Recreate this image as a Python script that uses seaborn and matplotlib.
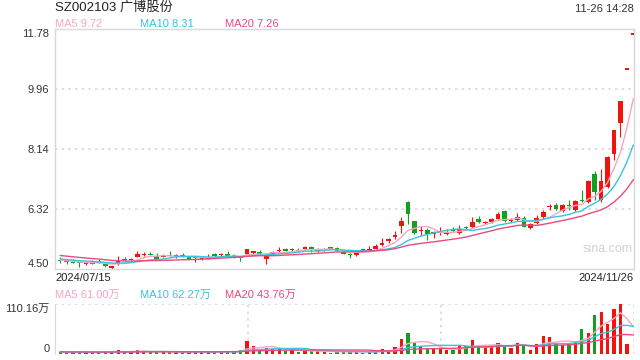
import matplotlib
matplotlib.use("Agg")
import matplotlib.pyplot as plt
import numpy as np
import pandas as pd
import seaborn as sns

# 日K 数据 (2024/07/15 ~ 2024/11/26, 90 个交易日)
opens = [4.77, 4.73, 4.71, 4.70, 4.66, 4.66, 4.74, 4.65, 4.53, 4.67,
         4.80, 4.77, 4.87, 4.93, 4.96, 4.90, 4.87, 4.92, 4.89, 4.91,
         4.86, 4.82, 4.80, 4.81, 4.95, 4.91, 4.95, 4.91, 4.84, 4.95,
         5.00, 5.02, 4.80, 4.97, 5.04, 5.10, 5.07, 5.09, 5.11, 5.16,
         5.05, 5.08, 5.14, 5.14, 5.03, 4.95, 4.91, 5.07, 5.08, 5.12,
         5.24, 5.34, 5.46, 5.81, 6.53, 5.95, 5.64, 5.68, 5.55, 5.58,
         5.57, 5.66, 5.60, 5.77, 5.78, 6.03, 5.89, 5.93, 6.02, 6.26,
         5.96, 6.00, 6.05, 5.75, 5.90, 6.07, 6.38, 6.44, 6.27, 6.44,
         6.29, 6.56, 6.52, 7.38, 6.59, 6.99, 8.00, 8.93, 10.55, 11.61]
highs = [4.87, 4.77, 4.79, 4.71, 4.71, 4.77, 4.81, 4.67, 4.60, 4.89,
         4.85, 4.84, 5.06, 5.02, 5.01, 5.00, 4.94, 5.04, 4.94, 4.98,
         4.88, 4.85, 4.84, 4.94, 4.98, 5.00, 5.04, 4.94, 4.88, 5.12,
         5.06, 5.08, 4.92, 5.05, 5.17, 5.15, 5.14, 5.15, 5.20, 5.20,
         5.14, 5.15, 5.18, 5.17, 5.06, 4.98, 5.02, 5.09, 5.19, 5.25,
         5.43, 5.44, 5.66, 6.07, 6.56, 5.96, 5.80, 5.75, 5.64, 5.76,
         5.70, 5.76, 5.82, 5.81, 6.07, 6.11, 5.96, 6.06, 6.22, 6.28,
         6.05, 6.20, 6.10, 5.89, 6.15, 6.30, 6.47, 6.50, 6.46, 6.60,
         6.60, 6.89, 7.20, 7.48, 7.53, 7.93, 8.73, 9.60, 10.55, 11.61]
lows = [4.69, 4.65, 4.67, 4.55, 4.63, 4.65, 4.67, 4.57, 4.50, 4.63,
        4.75, 4.76, 4.85, 4.90, 4.92, 4.80, 4.85, 4.89, 4.83, 4.86,
        4.79, 4.72, 4.78, 4.80, 4.87, 4.87, 4.87, 4.84, 4.75, 4.94,
        4.95, 4.93, 4.66, 4.94, 5.02, 5.04, 5.04, 5.02, 5.09, 5.02,
        5.01, 5.05, 5.10, 5.04, 4.95, 4.84, 4.89, 5.04, 5.06, 5.10,
        5.20, 5.30, 5.42, 5.58, 5.86, 5.56, 5.54, 5.38, 5.43, 5.52,
        5.52, 5.62, 5.57, 5.70, 5.75, 5.89, 5.85, 5.90, 5.98, 5.94,
        5.92, 5.96, 5.76, 5.71, 5.85, 6.02, 6.30, 6.28, 6.22, 6.30,
        6.25, 6.53, 6.50, 6.58, 6.52, 6.95, 7.80, 8.51, 10.55, 11.61]
closes = [4.74, 4.70, 4.68, 4.67, 4.70, 4.70, 4.68, 4.59, 4.58, 4.75,
          4.77, 4.81, 4.95, 4.96, 4.93, 4.81, 4.89, 4.90, 4.90, 4.89,
          4.80, 4.84, 4.83, 4.85, 4.90, 4.95, 4.90, 4.88, 4.82, 5.10,
          5.01, 4.95, 4.91, 5.01, 5.07, 5.05, 5.09, 5.05, 5.18, 5.07,
          5.08, 5.10, 5.12, 5.06, 4.96, 4.93, 5.00, 5.06, 5.12, 5.20,
          5.27, 5.40, 5.54, 5.96, 6.18, 5.58, 5.67, 5.55, 5.61, 5.62,
          5.63, 5.64, 5.72, 5.74, 5.92, 5.92, 5.92, 6.02, 6.17, 5.96,
          5.98, 6.09, 5.78, 5.87, 6.04, 6.23, 6.42, 6.31, 6.44, 6.42,
          6.56, 6.55, 7.16, 6.84, 7.17, 7.90, 8.71, 9.59, 10.55, 11.61]
# 成交量 (万)
volumes = [5.1, 3.7, 3.7, 4.4, 3.7, 3.7, 3.7, 4.4, 4.4, 8.8,
           4.4, 4.4, 8.8, 5.9, 4.4, 4.4, 4.4, 4.4, 4.4, 4.4,
           4.4, 4.4, 4.4, 4.4, 4.4, 6.6, 6.6, 3.7, 8.8, 29.4,
           17.6, 10.3, 13.2, 11.8, 11.8, 7.3, 8.1, 4.4, 8.1, 5.9,
           5.9, 5.1, 2.9, 5.1, 5.9, 4.4, 5.9, 2.9, 3.7, 6.6,
           11.0, 8.8, 15.4, 33.0, 46.3, 25.0, 17.6, 11.8, 11.8, 11.8,
           8.8, 8.8, 17.6, 17.6, 30.8, 17.6, 13.2, 17.6, 23.5, 19.1,
           13.2, 24.2, 19.1, 8.8, 22.0, 39.7, 37.5, 23.5, 19.1, 23.5,
           28.6, 55.1, 47.0, 85.9, 92.5, 66.8, 99.1, 110.16, 22.0, 0.7]
# 07/15 之前的收盘价和成交量, 只用来算均线
prior_closes = [5.10, 5.08, 5.05, 5.06, 5.02, 5.00, 4.98, 4.99, 4.95, 4.92,
                4.88, 4.85, 4.83, 4.84, 4.80, 4.78, 4.79, 4.76, 4.78]
prior_volumes = [5.5, 4.8, 5.2, 4.6, 4.9, 5.0, 4.4, 4.7, 5.3, 4.5,
                 4.2, 4.8, 4.6, 4.1, 4.5, 4.3, 4.0, 4.6, 4.2]

price_ticks = [4.50, 6.32, 8.14, 9.96, 11.78]
vol_max = 110.16
start_label = "2024/07/15"
end_label = "2024/11/26"
# 图例上显示的最新均线值
ma_names = ["MA5", "MA10", "MA20"]
ma_price_vals = ["9.72", "8.31", "7.26"]
ma_vol_vals = ["61.00万", "62.27万", "43.76万"]

RED = "#f2140c"
GREEN = "#12a020"
C_MA5 = "#f8a5c2"
C_MA10 = "#38c4df"
C_MA20 = "#ec4a7c"
GRID = "#d8d8d8"
ma_colors = [C_MA5, C_MA10, C_MA20]

sns.set_style("white")
plt.rcParams['font.family'] = ['Liberation Sans', 'Noto Sans CJK SC']

df = pd.DataFrame({"open": opens, "high": highs, "low": lows,
                   "close": closes, "volume": volumes})
df["x"] = np.arange(len(df))
up = df["close"] >= df["open"]
cols = np.where(up, RED, GREEN)

# 均线
all_c = pd.Series(prior_closes + closes)
all_v = pd.Series(prior_volumes + volumes)
n0 = len(prior_closes)
for w in (5, 10, 20):
    df[f"ma{w}"] = all_c.rolling(w, min_periods=1).mean().iloc[n0:].values
    df[f"vma{w}"] = all_v.rolling(w, min_periods=1).mean().iloc[n0:].values

fig = plt.figure(figsize=(6.4, 3.6), dpi=100)
W, H = 640, 360
ax = fig.add_axes([55 / W, 1 - 269 / H, 579 / W, 240 / H])
axv = fig.add_axes([55 / W, 1 - 354 / H, 579 / W, 50 / H])
xlim = (-0.8, 89.1)

# K线
body_lo = np.minimum(df["open"], df["close"])
body_h = np.maximum((df["close"] - df["open"]).abs(), 0.035)
ax.vlines(df["x"], df["low"], df["high"], colors=cols, lw=0.8, zorder=2)
ax.bar(df["x"], body_h, bottom=body_lo, width=0.72, color=cols, lw=0, zorder=3)

for w, c in zip((5, 10, 20), ma_colors):
    sns.lineplot(data=df, x="x", y=f"ma{w}", ax=ax, color=c, lw=1.0, zorder=4)

ax.set_xlim(*xlim)
ax.set_ylim(price_ticks[0], price_ticks[-1])
ax.set_yticks(price_ticks)
ax.set_yticklabels([f"{t:.2f}" for t in price_ticks])
ax.set_xticks([])
ax.set_xlabel("")
ax.set_ylabel("")
ax.tick_params(axis="y", length=0, pad=4, labelsize=8, labelcolor="#333333")
labs = ax.get_yticklabels()
labs[0].set_va("bottom")
labs[-1].set_va("top")
for t in price_ticks[1:-1]:
    ax.axhline(t, color=GRID, lw=1.2, ls=(0, (1.5, 2.5)), zorder=1)
for s in ax.spines.values():
    s.set_color(GRID)
    s.set_linewidth(1)

ax.text(0.955, 0.085, "sina.com", transform=ax.transAxes, ha="center",
        va="center", fontsize=9, color="#d2d2d2")

# 成交量
axv.bar(df["x"], df["volume"], width=0.5, color=cols, lw=0, zorder=2)
for w, c in zip((5, 10, 20), ma_colors):
    sns.lineplot(data=df, x="x", y=f"vma{w}", ax=axv, color=c, lw=1.0, zorder=3)
axv.set_xlim(*xlim)
axv.set_ylim(0, vol_max)
axv.set_yticks([0, vol_max])
axv.set_yticklabels(["0", f"{vol_max:.2f}万"])
axv.set_xticks([])
axv.set_xlabel("")
axv.set_ylabel("")
axv.tick_params(axis="y", length=0, pad=4, labelsize=8, labelcolor="#333333")
vl = axv.get_yticklabels()
vl[0].set_va("bottom")
vl[1].set_va("top")
for s in ("top", "right", "bottom"):
    axv.spines[s].set_visible(False)
axv.spines["left"].set_color(GRID)
dot = dict(color=GRID, lw=1.2, ls=(0, (1.5, 2.5)), transform=axv.transAxes, zorder=1)
axv.plot([0, 1], [1, 1], **dot)
axv.plot([1, 1], [0, 1], **dot)
axv.plot([1 / 3, 1 / 3], [0, 1], **dot)
axv.plot([2 / 3, 2 / 3], [0, 1], **dot)

# 文本
def ftext(x, y, s, **kw):
    fig.text(x / W, 1 - y / H, s, va="center", **kw)

ftext(55, 8, "SZ002103 广博股份", fontsize=9.5, color="#222222")
ftext(634, 9, "11-26 14:28", fontsize=8, color="#333333", ha="right")
for xpos, name, val, c in zip((55, 140, 225), ma_names, ma_price_vals, ma_colors):
    ftext(xpos, 24, f"{name} {val}", fontsize=8, color=c)
ftext(55, 278, start_label, fontsize=8, color="#222222")
ftext(634, 278, end_label, fontsize=8, color="#222222", ha="right")
for xpos, name, val, c in zip((55, 140, 225), ma_names, ma_vol_vals, ma_colors):
    ftext(xpos, 295, f"{name} {val}", fontsize=8, color=c)

fig.savefig("out.png", dpi=100)
